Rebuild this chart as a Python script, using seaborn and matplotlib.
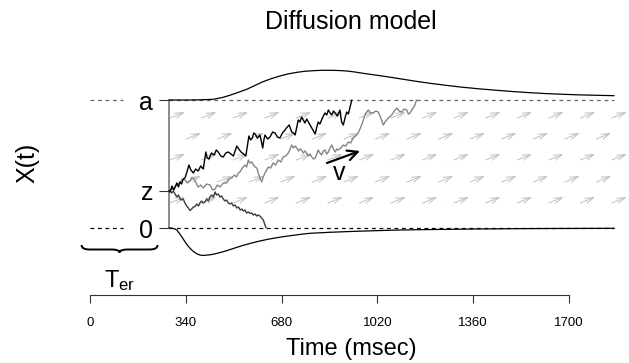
import numpy as np
import pandas as pd
import matplotlib
matplotlib.use("Agg")
import matplotlib.pyplot as plt
from matplotlib.path import Path
from matplotlib.patches import PathPatch
import seaborn as sns

# ---------------- data ----------------
a = 1.28          # upper boundary
z = 0.37          # starting point
Ter = 280         # non-decision time (ms)
t_end = 1860      # end of drawn boundaries (ms)
x_ticks = [0, 340, 680, 1020, 1360, 1700]
y_tick_vals = [0, z, a]
y_tick_labels = ["0", "z", "a"]

# response-time density above the upper boundary
upper_t = [280, 355, 390, 437, 470, 497, 527, 557, 585, 614, 644, 674, 705, 735,
           762, 791, 822, 852, 882, 912, 940, 969, 1030, 1090, 1150, 1207, 1265,
           1324, 1384, 1444, 1503, 1562, 1620, 1679, 1740, 1799, 1860]
upper_d = [0, 0, 0.002, 0.007, 0.025, 0.048, 0.077, 0.108, 0.145, 0.183, 0.214, 0.24, 0.262, 0.277,
           0.287, 0.293, 0.297, 0.297, 0.295, 0.29, 0.28, 0.267, 0.243, 0.217, 0.19, 0.167, 0.146,
           0.127, 0.111, 0.097, 0.084, 0.073, 0.064, 0.057, 0.051, 0.047, 0.043]

# response-time density below the lower boundary
lower_t = [280, 290, 300, 308, 319, 328, 337, 346, 355, 364, 373, 382, 390, 399, 408,
           422, 437, 460, 485, 514, 544, 574, 603, 633, 663, 692, 722, 751, 781,
           850, 923, 1010, 1100, 1190, 1278, 1370, 1455, 1545, 1632, 1745, 1860]
lower_d = [0, 0.002, 0.008, 0.02, 0.06, 0.098, 0.137, 0.173, 0.203, 0.228, 0.247, 0.262, 0.27, 0.274, 0.273,
           0.269, 0.263, 0.247, 0.227, 0.2, 0.173, 0.15, 0.13, 0.112, 0.097, 0.084, 0.073, 0.062, 0.053,
           0.043, 0.035, 0.027, 0.02, 0.016, 0.013, 0.01, 0.008, 0.006, 0.005, 0.004, 0.003]

# sample path that reaches the upper boundary first (black)
black_t = [280, 284, 291, 297, 302, 308, 314, 319, 325, 331,
           337, 344, 351, 358, 367, 375, 384, 393, 402, 411,
           416, 422, 431, 441, 448, 455, 464, 473, 482, 491,
           500, 509, 515, 521, 528, 536, 545, 553, 559, 564,
           570, 576, 581, 586, 594, 603, 608, 613, 617, 621,
           630, 639, 648, 657, 665, 674, 683, 692, 700, 707,
           712, 716, 722, 728, 734, 739, 745, 751, 757, 763,
           769, 775, 781, 787, 793, 799, 805, 810, 816, 822,
           828, 834, 840, 846, 852, 858, 864, 870, 878, 887,
           893, 899, 905, 911, 917, 923, 929]
black_v = [0.37, 0.36, 0.42, 0.38, 0.41, 0.45, 0.41, 0.46, 0.44, 0.49,
           0.50, 0.56, 0.63, 0.58, 0.55, 0.59, 0.57, 0.62, 0.59, 0.76,
           0.70, 0.69, 0.75, 0.73, 0.78, 0.76, 0.72, 0.71, 0.75, 0.76,
           0.74, 0.72, 0.77, 0.82, 0.79, 0.76, 0.74, 0.72, 0.83, 0.92,
           0.88, 0.90, 0.95, 0.94, 0.90, 0.93, 0.87, 0.80, 0.88, 0.93,
           0.89, 0.91, 0.96, 0.95, 0.91, 0.90, 0.95, 0.98, 1.01, 1.03,
           0.99, 0.96, 0.95, 0.93, 1.01, 1.08, 1.06, 1.11, 1.08, 1.05,
           1.09, 1.06, 1.03, 1.00, 0.97, 0.94, 1.01, 1.06, 1.04, 1.08,
           1.12, 1.15, 1.13, 1.18, 1.15, 1.13, 1.17, 1.15, 1.12, 1.18,
           1.06, 1.03, 1.10, 1.16, 1.14, 1.21, 1.28]

# sample path that reaches the upper boundary later (mid grey)
gray_t = [280, 284, 291, 297, 302, 310, 319, 328, 337, 346,
          355, 361, 367, 375, 384, 393, 402, 414, 426, 435,
          444, 452, 461, 473, 485, 494, 503, 512, 520, 526,
          532, 541, 550, 556, 562, 568, 574, 580, 586, 592,
          597, 603, 609, 615, 621, 627, 633, 641, 650, 659,
          668, 677, 686, 695, 704, 710, 716, 722, 728, 734,
          740, 745, 751, 757, 763, 769, 775, 781, 787, 793,
          799, 805, 810, 816, 822, 828, 834, 840, 846, 852,
          858, 864, 870, 876, 881, 890, 899, 908, 917, 925,
          934, 943, 952, 958, 964, 970, 976, 982, 988, 996,
          1005, 1014, 1023, 1032, 1041, 1047, 1053, 1062, 1071, 1080,
          1089, 1097, 1106, 1115, 1124, 1130, 1136, 1142, 1147, 1153,
          1159]
gray_v = [0.37, 0.36, 0.40, 0.38, 0.41, 0.44, 0.45, 0.49, 0.48, 0.45,
          0.47, 0.50, 0.50, 0.46, 0.41, 0.43, 0.40, 0.44, 0.43, 0.38,
          0.39, 0.43, 0.41, 0.45, 0.45, 0.49, 0.50, 0.53, 0.51, 0.55,
          0.56, 0.60, 0.63, 0.61, 0.68, 0.65, 0.66, 0.63, 0.61, 0.60,
          0.55, 0.50, 0.46, 0.51, 0.55, 0.58, 0.61, 0.60, 0.65, 0.63,
          0.68, 0.66, 0.71, 0.72, 0.75, 0.79, 0.83, 0.80, 0.82, 0.80,
          0.77, 0.79, 0.78, 0.75, 0.77, 0.75, 0.72, 0.74, 0.71, 0.69,
          0.70, 0.74, 0.78, 0.75, 0.73, 0.77, 0.78, 0.74, 0.76, 0.80,
          0.83, 0.79, 0.76, 0.79, 0.78, 0.80, 0.83, 0.82, 0.86, 0.85,
          0.90, 0.92, 0.95, 0.99, 1.03, 1.08, 1.13, 1.16, 1.18, 1.15,
          1.15, 1.17, 1.16, 1.10, 1.03, 1.06, 1.08, 1.11, 1.13, 1.17,
          1.20, 1.17, 1.16, 1.19, 1.18, 1.14, 1.15, 1.18, 1.20, 1.23,
          1.28]

# sample path that reaches the lower boundary (dark grey)
dark_t = [280, 284, 290, 296, 302, 308, 314, 319, 325, 331,
          337, 343, 349, 355, 361, 367, 373, 379, 385, 390,
          396, 402, 408, 414, 420, 426, 432, 438, 444, 449,
          455, 461, 467, 473, 479, 485, 491, 497, 503, 509,
          515, 521, 527, 533, 539, 544, 550, 556, 562, 568,
          574, 580, 586, 592, 597, 603, 609, 615, 621, 625]
dark_v = [0.37, 0.375, 0.35, 0.37, 0.34, 0.31, 0.33, 0.295, 0.28, 0.29,
          0.25, 0.22, 0.20, 0.175, 0.19, 0.21, 0.215, 0.24, 0.22, 0.25,
          0.27, 0.25, 0.26, 0.29, 0.27, 0.31, 0.33, 0.31, 0.36, 0.33,
          0.34, 0.31, 0.32, 0.29, 0.27, 0.28, 0.25, 0.24, 0.25, 0.22,
          0.23, 0.20, 0.21, 0.18, 0.19, 0.17, 0.18, 0.15, 0.16, 0.145,
          0.15, 0.13, 0.14, 0.12, 0.13, 0.12, 0.10, 0.08, 0.03, 0.0]

# drift-field arrows
arrow_rows = [1.10, 0.89, 0.68, 0.46, 0.25]
arrow_spacing = 112      # ms between arrows in a row
arrow_dt = 53            # arrow extent in time
arrow_dv = 0.06          # arrow extent in evidence

# drift-rate arrow ("v")
v_tail = (841, 0.65)
v_head = (958, 0.77)

# ---------------- figure ----------------
sns.set_theme(style="white")
plt.rcParams["font.family"] = ["Liberation Sans", "DejaVu Sans"]
plt.rcParams["mathtext.fontset"] = "custom"
plt.rcParams["mathtext.rm"] = "Liberation Sans"
plt.rcParams["mathtext.it"] = "Liberation Sans:italic"
for key in ["text.color", "axes.labelcolor", "xtick.color", "ytick.color"]:
    plt.rcParams[key] = "black"

fig = plt.figure(figsize=(6.29, 3.63), dpi=100)
ax = fig.add_axes([0, 0, 1, 1])
ax.set_facecolor("white")
xmin, xmax = -90 * 1700 / 479, 539 * 1700 / 479
ax.set_xlim(xmin, xmax)
ax.set_ylim(-1.35, 2.28)

# drift arrows (background)
arrow_style = "->,head_length=0.5,head_width=0.16"
for i, rv in enumerate(arrow_rows):
    start = Ter + 4 if i % 2 == 0 else Ter + 61
    t0 = start
    while t0 + arrow_dt * 0.3 < xmax:
        ax.annotate("", xy=(t0 + arrow_dt, rv + arrow_dv), xytext=(t0, rv),
                    arrowprops=dict(arrowstyle=arrow_style, color="#c0c0c0",
                                    lw=0.7, shrinkA=0, shrinkB=0),
                    annotation_clip=False, zorder=1)
        t0 += arrow_spacing

# boundaries
ax.plot([0, 117], [a, a], color="#666666", lw=0.9, dashes=(3, 3), zorder=2)
ax.plot([0, 117], [0, 0], color="black", lw=0.9, dashes=(3, 3), zorder=2)
ax.plot([Ter, t_end], [a, a], color="#666666", lw=0.9, dashes=(3, 3), zorder=2)
ax.plot([Ter, t_end], [0, 0], color="black", lw=0.9, dashes=(3, 3), zorder=2)

# densities
dens = pd.DataFrame({"t": upper_t, "y": np.array(upper_d) + a})
sns.lineplot(data=dens, x="t", y="y", color="black", lw=0.9, ax=ax,
             estimator=None, sort=False, zorder=3)
dens_l = pd.DataFrame({"t": lower_t, "y": -np.array(lower_d)})
sns.lineplot(data=dens_l, x="t", y="y", color="black", lw=0.9, ax=ax,
             estimator=None, sort=False, zorder=3)

# sample paths
for tt, vv, col in [(dark_t, dark_v, "#3c3c3c"), (gray_t, gray_v, "#858585"),
                    (black_t, black_v, "black")]:
    df = pd.DataFrame({"t": tt, "v": vv})
    sns.lineplot(data=df, x="t", y="v", color=col, lw=1.0, ax=ax,
                 estimator=None, sort=False, zorder=4)

# drift arrow
ax.annotate("", xy=v_head, xytext=v_tail,
            arrowprops=dict(arrowstyle="->,head_length=0.6,head_width=0.3",
                            color="black", lw=1.6, shrinkA=0, shrinkB=0), zorder=5)
ax.text(884, 0.55, "v", fontsize=18, ha="center", va="center", zorder=5)

# Ter brace
bl, br = -30, 240
bc = (bl + br) / 2
ytop, ymid, ybot = -0.17, -0.215, -0.245
q = 28
verts = [(bl, ytop), (bl, ymid), (bl + q, ymid), (bc - q, ymid), (bc, ymid), (bc, ybot),
         (bc, ymid), (bc + q, ymid), (br - q, ymid), (br, ymid), (br, ytop)]
codes = [Path.MOVETO, Path.CURVE3, Path.CURVE3, Path.LINETO, Path.CURVE3, Path.CURVE3,
         Path.CURVE3, Path.CURVE3, Path.LINETO, Path.CURVE3, Path.CURVE3]
ax.add_patch(PathPatch(Path(verts, codes), fill=False, lw=1.4, edgecolor="black"))
ax.text(bc, -0.59, r"$\mathregular{T_{er}}$", fontsize=17, ha="center", va="baseline")

# axes styling
for s in ["top", "right"]:
    ax.spines[s].set_visible(False)
ax.spines["bottom"].set_position(("data", -0.67))
ax.spines["bottom"].set_bounds(0, 1700)
ax.spines["bottom"].set_color("#333333")
ax.spines["bottom"].set_linewidth(0.8)
ax.spines["left"].set_position(("data", Ter))
ax.spines["left"].set_bounds(0, a)
ax.spines["left"].set_color("#777777")
ax.spines["left"].set_linewidth(1.2)

ax.set_xticks(x_ticks)
ax.set_xticklabels([str(x) for x in x_ticks])
ax.set_yticks(y_tick_vals)
ax.set_yticklabels(y_tick_labels)
ax.tick_params(axis="x", bottom=True, direction="out", length=5.8, width=0.8,
               color="#333333", labelcolor="black", pad=10, labelsize=9.5)
ax.tick_params(axis="y", left=True, direction="out", length=7.2, width=0.8,
               color="#333333", labelcolor="black", pad=4, labelsize=18)
ax.grid(False)

ax.set_xlabel("Time (msec)", fontsize=17, color="black")
ax.xaxis.set_label_coords(351 / 629, (363 - 338) / 363)
ax.set_ylabel("")
fig.text(27.5 / 629, 1 - 162.5 / 363, "X(t)", rotation=90, ha="center", va="center",
         fontsize=18, color="black")
fig.text(351 / 629, 1 - 22 / 363, "Diffusion model", ha="center", va="center",
         fontsize=18, color="black")

fig.savefig("out.png", dpi=100)
